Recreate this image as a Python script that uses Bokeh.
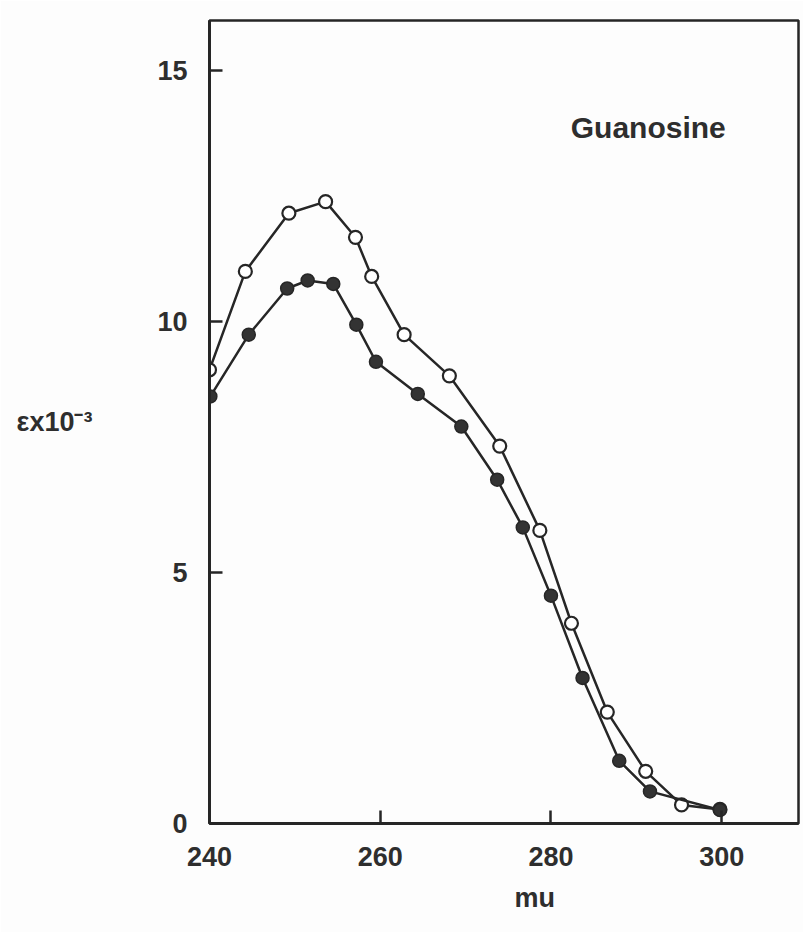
from bokeh.plotting import figure
from bokeh.models import Range1d, FixedTicker, Label, Title
from bokeh.embed import file_html
from bokeh.resources import INLINE

# Wavelength (mu) and extinction coefficient (epsilon x 10^-3) readings
wavelength_open = [240.0, 244.2, 249.3, 253.6, 257.1, 259.0, 262.8, 268.1,
                   274.0, 278.7, 282.4, 286.6, 291.1, 295.3, 299.8]
epsilon_open = [9.04, 11.00, 12.16, 12.39, 11.68, 10.90, 9.74, 8.92,
                7.52, 5.84, 3.99, 2.22, 1.04, 0.37, 0.28]

wavelength_filled = [240.1, 244.6, 249.1, 251.5, 254.5, 257.2, 259.5, 264.4,
                     269.5, 273.7, 276.7, 280.0, 283.7, 288.0, 291.6, 299.8]
epsilon_filled = [8.51, 9.74, 10.66, 10.82, 10.75, 9.94, 9.20, 8.56,
                  7.91, 6.85, 5.90, 4.54, 2.90, 1.25, 0.64, 0.27]

x_ticks = [240, 260, 280, 300]
y_ticks = [0, 5, 10, 15]

INK = "#262626"
TEXT = "#2e2e2e"
FONT = "Liberation Sans"

p = figure(width=803, height=932, output_backend="svg", toolbar_location=None,
           x_range=Range1d(240, 309), y_range=Range1d(0, 16))
p.min_border_left = 209
p.min_border_right = 5
p.min_border_top = 20
p.min_border_bottom = 109
p.background_fill_color = "#fdfdfd"
p.border_fill_color = "#fdfdfd"
p.outline_line_color = INK
p.outline_line_width = 2.5
p.grid.visible = False

for ax in (p.xaxis[0], p.yaxis[0]):
    ax.axis_line_color = INK
    ax.axis_line_width = 3
    ax.major_tick_line_color = INK
    ax.major_tick_line_width = 2.5
    ax.major_tick_in = 13
    ax.major_tick_out = 0
    ax.minor_tick_line_color = None
    ax.major_label_text_font = FONT
    ax.major_label_text_font_style = "bold"
    ax.major_label_text_font_size = "27px"
    ax.major_label_text_color = TEXT
    ax.axis_label_text_font = FONT
    ax.axis_label_text_font_style = "bold"
    ax.axis_label_text_font_size = "27px"
    ax.axis_label_text_color = TEXT

p.xaxis.ticker = FixedTicker(ticks=x_ticks)
p.yaxis.ticker = FixedTicker(ticks=y_ticks)
p.xaxis.major_label_standoff = 23
p.yaxis.major_label_standoff = 22

# Horizontal y-axis title
p.yaxis.axis_label = "\u03b5x10\u207b\u00b3"
p.yaxis.axis_label_standoff = 62
p.yaxis.axis_label_orientation = "horizontal"

# Upper curve: open circles
p.line(wavelength_open, epsilon_open, line_color=INK, line_width=2.5)
p.scatter(wavelength_open, epsilon_open, marker="circle", size=13,
          fill_color="white", line_color=INK, line_width=2.2)

# Lower curve: filled circles
p.line(wavelength_filled, epsilon_filled, line_color=INK, line_width=2.5)
p.scatter(wavelength_filled, epsilon_filled, marker="circle", size=13,
          fill_color="#333333", line_color=INK, line_width=1.5)

p.add_layout(Label(x=291.4, y=13.86, text="Guanosine", text_font=FONT,
                   text_font_style="bold", text_font_size="30px",
                   text_color=TEXT, text_align="center",
                   text_baseline="middle"))

# x-axis title, shifted right of the frame centre
p.add_layout(Title(text="mu", align="left", offset=305, standoff=24,
                   text_font=FONT, text_font_style="bold",
                   text_font_size="27px", text_color=TEXT), "below")

open("out.html", "w").write(file_html(p, INLINE))
